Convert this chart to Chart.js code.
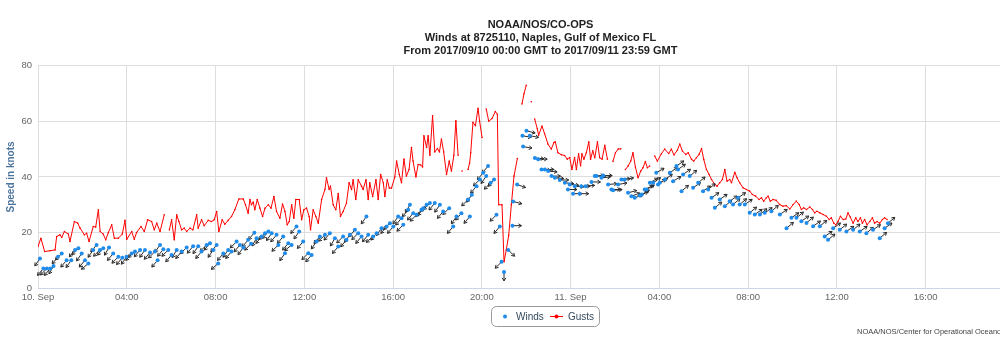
<!DOCTYPE html>
<html>
<head>
<meta charset="utf-8">
<title>Winds at 8725110, Naples</title>
<script src="https://cdn.jsdelivr.net/npm/chart.js@4.4.0/dist/chart.umd.min.js"></script>
<style>
    html, body { margin: 0; padding: 0; background: #fff; overflow: hidden; }
    #wrap { width: 1092px; height: 352px; }
</style>
</head>
<body>
<div id="wrap"><canvas id="windChart" width="1092" height="352"></canvas></div>
<script>

// hours since 2017/09/10 00:00 GMT
const gustHours = [
    0, 0.13, 0.3, 0.54, 0.77, 0.84, 0.99, 1.07, 1.19, 1.37,
    1.44, 1.64, 1.79, 1.89, 2.09, 2.19, 2.3, 2.49, 2.6, 2.72,
    2.8, 2.94, 3.05, 3.17, 3.32, 3.44, 3.62, 3.8, 3.92, 4.0,
    4.22, 4.34, 4.44, 4.64, 4.79, 4.94, 5.12, 5.24, 5.35, 5.5,
    5.69, 5.8, 5.92, 6.02, 6.14, 6.25, 6.35, 6.47, 6.59, 6.7,
    6.85, 6.98, 7.15, 7.22, 7.37, 7.49, 7.67, 7.82, 7.94, 8.05,
    8.15, 8.3, 8.42, 8.57, 8.72, 8.87, 9.05, 9.25, 9.35, 9.47,
    9.55, 9.62, 9.7, 9.77, 9.88, 10.0, 10.12, 10.23, 10.38, 10.5,
    10.63, 10.75, 10.9, 11.02, 11.13, 11.23, 11.32, 11.43, 11.53, 11.62,
    11.77, 11.88, 11.98, 12.1, 12.22, 12.28, 12.4, 12.52, 12.63, 12.78,
    12.93, 13.0, 13.12, 13.18, 13.3, 13.42, 13.53, 13.63, 13.75, 13.9,
    14.02, 14.13, 14.2, 14.32, 14.43, 14.58, 14.65, 14.78, 14.88, 14.95,
    15.08, 15.23, 15.33, 15.44, 15.56, 15.63, 15.74, 15.83, 15.93, 16.08,
    16.16, 16.28, 16.38, 16.49, 16.6, 16.72, 16.83, 16.9, 17.03, 17.13,
    17.24, 17.33, 17.39, 17.51, 17.58, 17.66, 17.78, 17.88, 18.0, 18.09,
    18.18, 18.28, 18.41, 18.53, 18.63, 18.74, 18.83, 18.93, 19.0, 19.11,
    19.2, 19.38, 19.45, 19.5, 19.6, 19.71, 19.83, 19.9, 20.01, 20.1,
    20.2, 20.31, 20.46, 20.61, 20.7, 20.76, 20.91, 21.0, 21.1, 21.21,
    21.33, 21.45, 21.6, 21.7, 21.81, 21.9, 22.0, 22.1, 22.23, 22.3,
    22.38, 22.5, 22.56, 22.71, 22.83, 22.98, 23.13, 23.25, 23.31, 23.43,
    23.58, 23.73, 23.85, 23.96, 24.06, 24.18, 24.26, 24.36, 24.45, 24.51,
    24.6, 24.71, 24.82, 24.9, 25.0, 25.09, 25.21, 25.31, 25.42, 25.54,
    25.66, 25.78, 25.91, 26.02, 26.14, 26.26, 26.36, 26.47, 26.59, 26.71,
    26.81, 26.92, 27.04, 27.16, 27.26, 27.37, 27.46, 27.56, 27.68, 27.79,
    27.91, 28.09, 28.24, 28.42, 28.54, 28.66, 28.81, 28.92, 29.04, 29.19,
    29.3, 29.45, 29.55, 29.67, 29.79, 29.9, 30.0, 30.12, 30.24, 30.35,
    30.5, 30.6, 30.72, 30.84, 30.95, 31.05, 31.17, 31.25, 31.4, 31.5,
    31.62, 31.77, 31.92, 32.07, 32.19, 32.34, 32.49, 32.6, 32.7, 32.82,
    32.9, 33.0, 33.12, 33.27, 33.42, 33.57, 33.72, 33.88, 34.03, 34.17,
    34.3, 34.4, 34.5, 34.63, 34.78, 34.9, 35.0, 35.1, 35.23, 35.38,
    35.53, 35.65, 35.75, 35.86, 35.95, 36.05, 36.16, 36.28, 36.4, 36.5,
    36.6, 36.73, 36.85, 36.95, 37.06, 37.15, 37.25, 37.36, 37.48, 37.6,
    37.7, 37.81, 37.93, 38.05, 38.15, 38.26
];
const gustKnots = [
    15, 18, 13.2, 13.5, 13.8, 18.6, 19.2, 18.3, 20.4, 19.5,
    16.8, 24, 23.4, 21.7, 19.2, 19.8, 16.8, 22.2, 22, 28.2,
    20.4, 19.5, 17.4, 20, 22.8, 18, 18, 19.5, 24.4, 17.6,
    20.4, 17.6, 20, 22.2, 20.4, 24.6, 24, 21, 23.4, 20.4,
    26.4, null, 21, 24.6, 17.4, 26.4, 24, 21, 21.6, 20.4,
    21.6, 21, 26.4, 21.6, 24.6, 22.5, 24.4, 24, 24.6, 27.6,
    20.4, 24.6, 23, 24.4, 25.8, 28.2, 32.1, 32.1, 30, 27,
    31.9, 30, 31, 28.2, 31.9, 28.8, 25.8, 28.8, 30, 28.8,
    33, 27.6, 25.2, 30.3, 27.6, 22.8, 24, 30, 25.2, 31.9,
    31.9, 24.6, 28.2, 28.8, 25.8, 21, 28.2, 25.8, 23.4, 31.9,
    35.5, 39.7, 35.5, 36.7, 30, 28.2, 34, 25.8, 27.6, 30.6,
    37.9, 35.5, 39, 31.9, 39, 36.7, 35.5, 39, 31.9, 37.9,
    33, 39, 31.9, 40.9, 37.9, 33, 39, 36, 36, 40,
    45.7, 40.9, 37.9, 46.4, 40.3, 42.7, 50.6, 45.7, 40, 44.5,
    44.3, 43.6, 54.8, 50.6, 54.8, 47.8, 62, 49, 50.2, 49,
    53.6, 49, 40.9, 45.7, 42.1, 47.8, 60.2, 47.8, null, 42.1,
    null, 42.7, 45, 48.7, 59.6, 58.4, 64.7, 60, 54.2, null,
    64.4, 60, 61, 63.5, 62.5, 30, 30, 9.5, 13.7, 19,
    30, 40.3, 46.6, null, 66.2, 69.9, 72.9, null, 67, null,
    60.8, 57.3, 55, 58.3, 55.5, 51.8, 50, 52.4, 52.6, 48.7,
    48, 47.7, 46.4, 47, 42.7, 47, 42.7, 48.3, 44, 48.3,
    46.4, 48.7, 52.6, 46.4, 49.4, 46.9, 52.6, 46.9, 46.4, 51.4,
    46.4, null, 45.6, 48.7, 50, 50.1, null, 42.7, 43.9, 45.7,
    48.7, 43.6, 39.7, 42.1, 43.3, 45.5, 43.3, 43.9, null, 47.5,
    45.7, 48.3, 50, 48.4, 50, 47.9, 49.6, 51.8, 49.3, 48.1,
    48.7, 46.3, 45.7, 46.9, 48.1, 50.2, 46.3, 42.7, 40.9, 39.1,
    37.3, 36.7, 37.9, 39.1, 42.7, 38.5, 39.1, 37.9, 41.7, 39.7,
    37.9, 36.1, 35.5, 34.9, 33.7, 33.1, 31.9, 32.5, 31.3, 32.5,
    33.1, 31.3, 31.9, 31.6, 30.1, 29.5, 29.7, 28.5, 30.1, 31.3,
    30.1, 28.3, 28.9, 28.3, 29.2, 28.3, 27.1, 27.7, 27.1, 26.5,
    25.9, 24.7, 25.3, 23.4, 22.8, 24, 25.9, 24.7, 24.9, 27.1,
    25.6, 23.4, 25.3, 24, 25.3, 23.4, 24.7, 22.8, 24, 25.3,
    23.4, 24, 23.4, 24.7, 25.3, 24.7
];

const windHours = [
    0.09, 0.24, 0.4, 0.55, 0.7, 0.9, 1.07, 1.29, 1.5, 1.67,
    1.82, 1.97, 2.12, 2.27, 2.49, 2.64, 2.79, 2.94, 3.2, 3.39,
    3.62, 3.8, 3.99, 4.22, 4.37, 4.6, 4.82, 5.05, 5.27, 5.39,
    5.5, 5.65, 5.87, 6.02, 6.25, 6.47, 6.7, 6.99, 7.22, 7.37,
    7.6, 7.75, 7.9, 8.05, 8.12, 8.35, 8.57, 8.72, 8.95, 9.1,
    9.25, 9.47, 9.6, 9.75, 9.85, 10.08, 10.23, 10.38, 10.53, 10.75,
    10.83, 11.05, 11.13, 11.28, 11.43, 11.65, 11.77, 11.95, 12.18, 12.33,
    12.55, 12.7, 12.93, 13.15, 13.38, 13.53, 13.75, 13.9, 14.05, 14.28,
    14.43, 14.58, 14.8, 14.88, 15.1, 15.26, 15.48, 15.71, 15.86, 16.01,
    16.23, 16.38, 16.46, 16.68, 16.76, 16.91, 17.06, 17.28, 17.36, 17.51,
    17.66, 17.88, 18.11, 18.26, 18.53, 18.71, 18.86, 19.08, 19.38, 19.46,
    19.55, 19.76, 19.91, 20.06, 20.2, 20.28, 20.4, 20.55, 20.66, 20.81,
    20.89, 21.0, 21.19, 21.38, 21.41, 21.59, 21.83, 21.86, 22.01, 22.16,
    22.39, 22.54, 22.69, 22.84, 22.99, 23.14, 23.29, 23.51, 23.74, 23.88,
    23.96, 24.11, 24.19, 24.41, 24.48, 24.68, 24.94, 25.09, 25.17, 25.39,
    25.47, 25.69, 25.84, 25.92, 26.14, 26.29, 26.44, 26.59, 26.74, 26.89,
    27.12, 27.2, 27.34, 27.42, 27.57, 27.72, 27.86, 27.94, 28.02, 28.25,
    28.47, 28.62, 28.77, 28.84, 29.0, 29.07, 29.37, 29.52, 29.75, 29.97,
    30.2, 30.35, 30.5, 30.72, 30.95, 31.17, 31.32, 31.55, 31.62, 31.85,
    32.07, 32.3, 32.53, 32.75, 33.05, 33.43, 33.73, 33.95, 34.18, 34.4,
    34.63, 34.93, 35.23, 35.45, 35.6, 35.83, 36.13, 36.43, 36.73, 37.03,
    37.33, 37.63, 37.93, 38.15, 38.3
];
const windKnots = [
    10.7, 7.1, 7.1, 7.1, 8, 11.3, 12.5, 10.1, 10.1, 13.8,
    14.4, 12.5, 10.1, 8.9, 13.8, 15.6, 13.8, 14.4, 14.7, 12.5,
    11.3, 11, 11.3, 12.5, 13.2, 13.8, 13.8, 12.9, 13.2, 10.1,
    15.6, 14, 13.8, 12, 13.8, 13.2, 14.7, 15.1, 15.1, 13.2,
    15.6, 16.2, 13.8, 15.6, 8.9, 12.5, 13.8, 13.2, 16.8, 15.6,
    14.7, 17.4, 16, 20, 18, 18.6, 19.8, 20.4, 19.8, 19.2,
    15.6, 18.6, 12.6, 16.2, 15.6, 22.2, 20.4, 16.8, 12.6, 12,
    16.8, 18.6, 19.2, 19.8, 18, 15, 18.6, 17.4, 19.2, 21,
    19.8, 18.6, 25.8, 19.2, 18.6, 19.8, 21.6, 22.2, 23.4, 22.2,
    25.8, 25.2, 22.8, 28.2, 30, 27, 26.4, 28.2, 28.8, 30,
    30.6, 30.6, 30, 27.6, 28.8, 22.2, 25.8, 27, 31.9, 25.8,
    33.6, 36.7, 39.1, 41.5, 40.3, 43.9, 37.9, 39.1, 26.4, 22.2,
    9.5, 5.9, 13.8, 22.5, 31.2, 37.3, 54.8, 50.9, 56.6, 54.8,
    46.8, 46.4, 42.7, 42.7, 42.1, 40.3, 39.7, 38.9, 37.9, 35.5,
    37.3, 34, 36.7, 34, 36.7, 36.7, 38.2, 40.3, 40.3, 39.7,
    40.5, 37.3, 35.5, 35.2, 37.3, 39.1, 39.1, 34.3, 33.1, 32.5,
    33.3, 33.7, 35.5, 35.5, 37.9, 37.9, 41.5, 37.3, 37.9, 39.1,
    41.5, 38.5, 43.9, 42.7, 34.9, 40.9, 40.3, 36.1, 37.9, 34.9,
    35.5, 32.5, 28.9, 31.9, 29.5, 31.3, 30.1, 32.5, 30.1, 30.1,
    27.1, 26.5, 26.5, 27.1, 27.7, 26.5, 21.6, 25.3, 25.3, 24.1,
    23.5, 22.3, 22.3, 18.6, 17.4, 21.6, 21, 20.4, 21, 20.4,
    19.8, 21, 18, 21.6, 23.4
];
// direction the wind blows from, degrees
const windFrom = [
    35, 40, 45, 40, 30, 40, 45, 40, 35, 40,
    45, 35, 40, 50, 35, 40, 45, 40, 30, 40,
    45, 40, 35, 40, 50, 40, 35, 40, 45, 40,
    35, 40, 45, 40, 30, 40, 45, 40, 35, 40,
    45, 40, 35, 40, 50, 40, 35, 40, 45, 40,
    35, 40, 45, 40, 30, 40, 45, 40, 35, 40,
    45, 40, 35, 40, 50, 40, 35, 40, 45, 40,
    35, 40, 45, 40, 30, 40, 45, 40, 35, 40,
    45, 40, 35, 40, 50, 40, 35, 40, 45, 40,
    35, 40, 45, 40, 30, 40, 45, 40, 35, 40,
    45, 40, 35, 40, 45, 40, 35, 40, 45, 40,
    35, 40, 45, 40, 35, 40, 45, 40, 45, 40,
    45, 0, 315, 270, 285, 290, 280, 280, 285, 280,
    275, 270, 275, 270, 275, 270, 275, 270, 275, 270,
    275, 270, 275, 270, 270, 265, 270, 265, 270, 265,
    270, 265, 270, 265, 260, 265, 260, 255, 250, 250,
    245, 240, 245, 240, 240, 235, 240, 235, 240, 235,
    235, 240, 235, 235, 230, 235, 230, 235, 230, 235,
    230, 235, 230, 235, 230, 235, 230, 235, 230, 235,
    230, 235, 230, 235, 230, 235, 230, 235, 230, 235,
    230, 235, 230, 235, 230, 235, 230, 235, 230, 235,
    230, 235, 230, 235, 230
];

const xTickHours = [0, 4, 8, 12, 16, 20, 24, 28, 32, 36, 40, 44];
const titleLines = [
    'NOAA/NOS/CO-OPS',
    'Winds at 8725110, Naples, Gulf of Mexico FL',
    'From 2017/09/10 00:00 GMT to 2017/09/11 23:59 GMT'
];
const creditText = 'NOAA/NOS/Center for Operational Oceanographic Products and Services';

const fontFamily = "'Liberation Sans', Arial, Helvetica, sans-serif";
const windColor = '#1f8ceb';
const gustColor = '#ff0000';

const pad2 = (n) => (n < 10 ? '0' : '') + n;

const hourLabel = (value) => {
    if (value === 0) return '10. Sep';
    if (value === 24) return '11. Sep';
    return pad2(value % 24) + ':00';
};

// arrow from each wind point in the direction the wind goes
const windArrows = {
    id: 'windArrows',
    beforeDatasetDraw(chart, args) {
        if (args.index !== 0) return;
        const ctx = chart.ctx;
        ctx.save();
        ctx.strokeStyle = '#2a2a2a';
        ctx.lineWidth = 1;
        args.meta.data.forEach((pt, i) => {
            const toward = (windFrom[i] + 180) * Math.PI / 180;
            const dx = Math.sin(toward);
            const dy = -Math.cos(toward);
            const tipX = pt.x + dx * 9;
            const tipY = pt.y + dy * 9;
            const a = Math.atan2(dy, dx);
            ctx.beginPath();
            ctx.moveTo(pt.x, pt.y);
            ctx.lineTo(tipX, tipY);
            ctx.moveTo(tipX - 3.5 * Math.cos(a - 0.55), tipY - 3.5 * Math.sin(a - 0.55));
            ctx.lineTo(tipX, tipY);
            ctx.lineTo(tipX - 3.5 * Math.cos(a + 0.55), tipY - 3.5 * Math.sin(a + 0.55));
            ctx.stroke();
        });
        ctx.restore();
    }
};

// axis title, boxed legend and credits
const decorations = {
    id: 'decorations',
    afterDraw(chart) {
        const ctx = chart.ctx;
        const area = chart.chartArea;
        ctx.save();

        ctx.translate(11.5, (area.top + area.bottom) / 2);
        ctx.rotate(-Math.PI / 2);
        ctx.font = 'bold 10px ' + fontFamily;
        ctx.fillStyle = '#4d759e';
        ctx.textAlign = 'center';
        ctx.textBaseline = 'middle';
        ctx.fillText('Speed in knots', 0, 0);
        ctx.setTransform(1, 0, 0, 1, 0, 0);

        ctx.strokeStyle = '#999999';
        ctx.lineWidth = 1;
        ctx.beginPath();
        ctx.roundRect(491.5, 306.5, 108, 20, 5);
        ctx.stroke();

        const cy = 316.5;
        ctx.fillStyle = windColor;
        ctx.beginPath();
        ctx.arc(505, cy, 2, 0, Math.PI * 2);
        ctx.fill();

        ctx.strokeStyle = gustColor;
        ctx.beginPath();
        ctx.moveTo(550, cy);
        ctx.lineTo(563, cy);
        ctx.stroke();
        ctx.fillStyle = gustColor;
        ctx.beginPath();
        ctx.arc(556.5, cy, 2, 0, Math.PI * 2);
        ctx.fill();

        ctx.font = '10px ' + fontFamily;
        ctx.fillStyle = '#34495e';
        ctx.textAlign = 'left';
        ctx.textBaseline = 'middle';
        ctx.fillText('Winds', 516, cy + 0.5);
        ctx.fillText('Gusts', 568, cy + 0.5);

        ctx.font = '7.5px ' + fontFamily;
        ctx.fillStyle = '#444444';
        ctx.fillText(creditText, 857, 332);
        ctx.restore();
    }
};

const renderChart = () => {
    const ctx = document.getElementById('windChart').getContext('2d');
    new Chart(ctx, {
        type: 'line',
        data: {
            datasets: [{
                label: 'Winds',
                data: windHours.map((h, i) => ({ x: h, y: windKnots[i] })),
                showLine: false,
                pointRadius: 2,
                pointBorderWidth: 0,
                pointBackgroundColor: windColor,
                borderColor: windColor
            }, {
                label: 'Gusts',
                data: gustHours.map((h, i) => ({ x: h, y: gustKnots[i] })),
                borderColor: gustColor,
                borderWidth: 1,
                pointRadius: 0.8,
                pointBorderWidth: 0,
                pointBackgroundColor: gustColor,
                spanGaps: false,
                tension: 0
            }]
        },
        options: {
            responsive: false,
            animation: false,
            devicePixelRatio: 1,
            layout: { padding: { left: 0, right: 11, top: 0, bottom: 0 } },
            scales: {
                x: {
                    type: 'linear',
                    min: 0,
                    max: 47,
                    afterBuildTicks: (scale) => {
                        scale.ticks = xTickHours.map(v => ({ value: v }));
                    },
                    afterFit: (scale) => { scale.height = 63.7; },
                    ticks: {
                        callback: (value) => hourLabel(value),
                        font: { family: fontFamily, size: 9.5 },
                        color: '#666666',
                        padding: 3,
                        maxRotation: 0,
                        autoSkip: false
                    },
                    grid: { color: '#dddddd', drawTicks: false },
                    border: { color: '#ccd6eb' }
                },
                y: {
                    min: 0,
                    max: 80,
                    afterFit: (scale) => { scale.width = 38; },
                    ticks: {
                        stepSize: 20,
                        font: { family: fontFamily, size: 9.5 },
                        color: '#666666',
                        padding: 6
                    },
                    grid: {
                        color: (c) => (c.tick && c.tick.value === 0 ? '#ccd6eb' : '#dddddd'),
                        drawTicks: false
                    },
                    border: { display: false }
                }
            },
            plugins: {
                legend: { display: false },
                tooltip: { enabled: false },
                title: {
                    display: true,
                    text: titleLines,
                    color: '#222222',
                    font: { family: fontFamily, size: 11, weight: 'bold', lineHeight: 1.17 },
                    padding: { top: 18.6, bottom: 8.4 }
                }
            }
        },
        plugins: [windArrows, decorations]
    });
};

window.addEventListener('load', () => renderChart());
</script>
</body>
</html>
